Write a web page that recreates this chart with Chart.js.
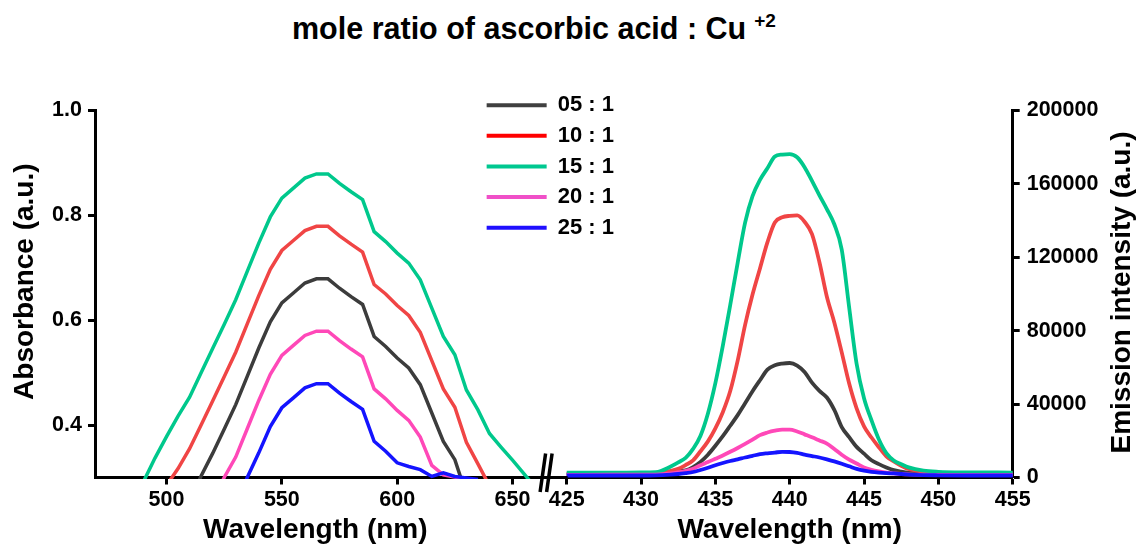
<!DOCTYPE html>
<html>
<head>
<meta charset="utf-8">
<script src="https://cdn.jsdelivr.net/npm/chart.js@4.4.1/dist/chart.umd.min.js"></script>
<style>
  body { margin: 0; background: #fff; width: 1136px; height: 548px; position: relative; overflow: hidden; }
  #title { position: absolute; left: 292px; top: 13px; font: bold 30.5px/30.5px "Liberation Sans"; color: #000; white-space: nowrap; }
  #title span { font-size: 19px; position: relative; top: -12px; margin-left: 8px; }
  canvas { position: absolute; top: 0; }
  #absChart { left: 0; z-index: 2; }
  #emChart { left: 540px; z-index: 1; }
</style>
</head>
<body>
<div id="title">mole ratio of ascorbic acid : Cu<span>+2</span></div>
<canvas id="emChart" width="596" height="548"></canvas>
<canvas id="absChart" width="640" height="548"></canvas>
<script>
const ratios = ["05 : 1", "10 : 1", "15 : 1", "20 : 1", "25 : 1"];

// absorbance (left panel)
const absWavelength = [490, 495, 500, 505, 510, 515, 520, 525, 530, 535, 540, 545, 550, 555, 560, 565, 570,
  575, 580, 585, 590, 595, 600, 605, 610, 615, 620, 625, 630, 635, 640, 645, 650, 655, 660];
const abs05 = [null, null, null, null, 0.253, 0.303, 0.346, 0.392, 0.439, 0.493, 0.547, 0.597, 0.633, 0.652, 0.671, 0.679, 0.679,
  0.661, 0.645, 0.630, 0.569, 0.550, 0.528, 0.509, 0.477, 0.423, 0.369, 0.334, 0.267, null, null, null, null, null, null];
const abs10 = [null, null, 0.285, 0.317, 0.355, 0.400, 0.446, 0.492, 0.539, 0.593, 0.647, 0.697, 0.733, 0.752, 0.771, 0.779, 0.779,
  0.761, 0.745, 0.730, 0.668, 0.650, 0.628, 0.609, 0.577, 0.523, 0.469, 0.434, 0.367, 0.326, 0.284, null, null, null, null];
const abs15 = [0.292, 0.337, 0.378, 0.417, 0.453, 0.500, 0.546, 0.592, 0.639, 0.693, 0.747, 0.797, 0.833, 0.852, 0.871, 0.879, 0.879,
  0.861, 0.845, 0.830, 0.769, 0.750, 0.728, 0.709, 0.677, 0.623, 0.569, 0.534, 0.467, 0.429, 0.384, 0.358, 0.333, 0.307, 0.280];
const abs20 = [null, null, null, null, null, null, 0.254, 0.300, 0.339, 0.393, 0.447, 0.497, 0.533, 0.552, 0.571, 0.579, 0.579,
  0.561, 0.545, 0.530, 0.469, 0.450, 0.428, 0.409, 0.377, 0.323, 0.305, 0.301, 0.296, null, null, null, null, null, null];
const abs25 = [null, null, null, null, null, null, null, null, 0.246, 0.300, 0.347, 0.397, 0.433, 0.452, 0.471, 0.479, 0.479,
  0.461, 0.445, 0.430, 0.369, 0.350, 0.328, 0.321, 0.315, 0.302, 0.309, 0.302, 0.299, 0.296, null, null, null, null, null];
const absTicksX = [500, 550, 600, 650];
const absTicksY = [0.4, 0.6, 0.8, 1.0];

// emission (right panel)
const emWavelength = [425, 428, 430, 431, 432, 432.5, 433, 433.5, 434, 434.5, 435, 435.5, 436, 436.5, 437, 437.5, 438,
  438.5, 439, 439.5, 440, 440.5, 441, 441.5, 442, 442.5, 443, 443.5, 444, 444.5, 445, 445.5, 446, 446.5, 447, 447.5,
  448, 449, 450, 452, 455];
const em05 = [1600, 1800, 1800, 1900, 2800, 3400, 3900, 5700, 8500, 12400, 17300, 22500, 28200, 34000, 40500, 47000, 53000,
  58800, 61200, 62100, 62400, 61000, 57500, 51700, 47200, 43600, 36800, 27500, 22000, 16700, 13000, 9400, 7300, 5500, 4000, 3200,
  2600, 2100, 1900, 1800, 1700];
const em10 = [2000, 2200, 2000, 2100, 3600, 4700, 6800, 9350, 14300, 19700, 26800, 35600, 47100, 63700, 83200, 99700, 113900,
  128100, 139000, 141800, 142600, 142800, 139400, 132600, 117300, 98500, 84500, 68200, 51200, 37700, 27900, 21800, 16500, 11500, 8800, 6400,
  4600, 3200, 2600, 2300, 2200];
const em15 = [2700, 2600, 2800, 2900, 6000, 8200, 10700, 15600, 22800, 34900, 51400, 71700, 94000, 117000, 138900, 153300, 162200,
  168500, 174900, 176000, 176200, 174500, 169100, 161600, 153800, 146300, 138000, 124200, 92700, 62000, 43200, 31200, 20700, 13300, 9300, 7300,
  5500, 3700, 3100, 2800, 2700];
const em20 = [1400, 1500, 1500, 1600, 2200, 2800, 3600, 4800, 6700, 8400, 10200, 12000, 14000, 16100, 18300, 20600, 23100,
  24500, 25500, 26100, 26100, 25100, 23500, 21900, 20200, 18500, 15500, 12400, 9700, 7600, 5500, 4200, 3300, 2600, 2200, 1900,
  1700, 1500, 1400, 1400, 1400];
const em25 = [1100, 1100, 1100, 1200, 1600, 1900, 2400, 3000, 4100, 5300, 6700, 7900, 9000, 9900, 10900, 11800, 12700,
  13200, 13600, 14000, 13900, 13400, 12500, 11700, 10900, 9900, 8800, 7500, 6100, 4700, 3700, 3100, 2700, 2400, 2200, 1900,
  1600, 1300, 1200, 1100, 1100];
const emTicksX = [425, 430, 435, 440, 445, 450, 455];
const emTicksY = [0, 40000, 80000, 120000, 160000, 200000];

const lineColors = ["#3c3c3c", "#f04545", "#00c88c", "#ff48b8", "#1414ff"];
const legendColors = ["#404040", "#ff0000", "#00c890", "#f050c8", "#2010ff"];

Chart.defaults.font.family = "'Liberation Sans'";
Chart.defaults.color = "#000";

const tickFont = { size: 21.5, weight: "bold" };
const axisTitleFont = { size: 28, weight: "bold" };
const chartBottom = 477.5;

function makeSets(xs, series, width) {
  return series.map((ys, i) => ({
    label: ratios[i],
    data: xs.map((x, j) => ({ x: x, y: ys[j] })),
    borderColor: lineColors[i],
    backgroundColor: lineColors[i],
    borderWidth: width,
    pointRadius: 0,
    order: series.length - i,
    clip: 1.5
  }));
}

function setTicks(values) {
  return (scale) => { scale.ticks = values.map((v) => ({ value: v })); };
}

// rotated axis title, reading bottom to top
function sideTitle(text, x, shiftUp) {
  return {
    id: "sideTitle",
    afterDraw(chart) {
      const ctx = chart.ctx;
      const ca = chart.chartArea;
      ctx.save();
      ctx.translate(x, (ca.top + ca.bottom) / 2 - shiftUp);
      ctx.rotate(-Math.PI / 2);
      ctx.font = "bold 28px 'Liberation Sans'";
      ctx.fillStyle = "#000";
      ctx.textAlign = "center";
      ctx.textBaseline = "middle";
      ctx.fillText(text, 0, 0);
      ctx.restore();
    }
  };
}

// move the legend up to the gap between the two panels
const legendSpot = {
  id: "legendSpot",
  afterLayout(chart) {
    const lg = chart.legend;
    lg.left = 478;
    lg.top = 85.5;
    lg.right = chart.width;
    lg.bottom = chart.chartArea.bottom;
  }
};

// the // break on the wavelength axis
const axisBreak = {
  id: "axisBreak",
  afterDraw(chart) {
    const ctx = chart.ctx;
    const ca = chart.chartArea;
    const y = ca.bottom;
    ctx.save();
    ctx.strokeStyle = "#000";
    ctx.lineWidth = 3;
    ctx.beginPath();
    ctx.moveTo(ca.right, y);
    ctx.lineTo(ca.right + 32, y);
    ctx.stroke();
    ctx.lineWidth = 3.5;
    ctx.beginPath();
    ctx.moveTo(ca.right + 4.5, y + 14.5);
    ctx.lineTo(ca.right + 10, y - 24);
    ctx.moveTo(ca.right + 11, y + 14.5);
    ctx.lineTo(ca.right + 16.5, y - 24);
    ctx.stroke();
    ctx.restore();
  }
};

const axisLine = { display: true, color: "#000", width: 3 };
const tickMarks = { drawOnChartArea: false, drawTicks: true, tickLength: 7, tickWidth: 3, tickColor: "#000" };

new Chart(document.getElementById("absChart"), {
  type: "line",
  data: { datasets: makeSets(absWavelength, [abs05, abs10, abs15, abs20, abs25], 3.5) },
  options: {
    responsive: false,
    animation: false,
    layout: { padding: { left: 0, top: 110.5, right: 104.4, bottom: 0 } },
    scales: {
      x: {
        type: "linear",
        min: 469,
        max: 660,
        afterBuildTicks: setTicks(absTicksX),
        afterFit: (s) => { s.height = 548 - chartBottom; },
        ticks: { font: tickFont, padding: 3, maxRotation: 0, autoSkip: false },
        grid: tickMarks,
        border: axisLine,
        title: { display: true, text: "Wavelength (nm)", font: axisTitleFont, padding: { top: 0, bottom: 1 } }
      },
      y: {
        min: 0.3,
        max: 1.0,
        afterBuildTicks: setTicks(absTicksY),
        afterFit: (s) => { s.width = 95; },
        ticks: { font: tickFont, padding: 6, callback: (v) => v.toFixed(1) },
        grid: tickMarks,
        border: axisLine
      }
    },
    plugins: {
      title: { display: false },
      tooltip: { enabled: false },
      legend: {
        display: true,
        position: "chartArea",
        align: "start",
        labels: {
          font: { size: 22, weight: "bold" },
          color: "#000",
          padding: 8.65,
          usePointStyle: true,
          pointStyle: "line",
          pointStyleWidth: 60,
          boxHeight: 22,
          generateLabels: (chart) => Chart.defaults.plugins.legend.labels.generateLabels(chart)
            .sort((a, b) => a.datasetIndex - b.datasetIndex)
            .map((item) => Object.assign(item, {
              strokeStyle: legendColors[item.datasetIndex],
              fillStyle: legendColors[item.datasetIndex],
              lineWidth: 4,
              pointStyle: "line"
            }))
        }
      }
    }
  },
  plugins: [legendSpot, axisBreak, sideTitle("Absorbance (a.u.)", 25, 12.3)]
});

new Chart(document.getElementById("emChart"), {
  type: "line",
  data: { datasets: makeSets(emWavelength, [em05, em10, em15, em20, em25], 3.8) },
  options: {
    responsive: false,
    animation: false,
    layout: { padding: { left: 26.7, top: 110.5, right: 0, bottom: 0 } },
    elements: { line: { cubicInterpolationMode: "monotone" } },
    scales: {
      x: {
        type: "linear",
        min: 425,
        max: 455,
        afterBuildTicks: setTicks(emTicksX),
        afterFit: (s) => { s.height = 548 - chartBottom; },
        ticks: { font: tickFont, padding: 3, maxRotation: 0, autoSkip: false },
        grid: tickMarks,
        border: axisLine,
        title: { display: true, text: "Wavelength (nm)", font: axisTitleFont, padding: { top: 0, bottom: 1 } }
      },
      y: {
        position: "right",
        min: 0,
        max: 200000,
        afterBuildTicks: setTicks(emTicksY),
        afterFit: (s) => { s.width = 123.3; },
        ticks: { font: tickFont, padding: 7, callback: (v) => String(v) },
        grid: tickMarks,
        border: axisLine
      }
    },
    plugins: {
      legend: { display: false },
      tooltip: { enabled: false }
    }
  },
  plugins: [sideTitle("Emission intensity (a.u.)", 582.7, 1.5)]
});
</script>
</body>
</html>
